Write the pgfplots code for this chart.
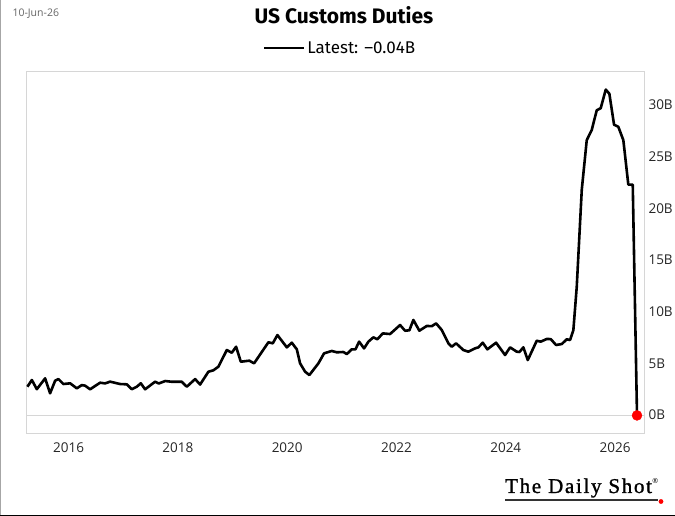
\documentclass[border=0pt]{standalone}
\usepackage{pgfplots}
\pgfplotsset{compat=1.18}
\usepackage{pgfplotstable}
\usepackage{fontspec}
\setmainfont{Open Sans}
\newfontfamily\titlefont{Fira Sans}
\newfontfamily\logofont[LetterSpace=8,FakeBold=1.2]{Liberation Serif}
\definecolor{frame}{HTML}{D6D6D6}
\definecolor{datecol}{HTML}{666666}
\pgfplotstableread{
x y
2015.246 2.74
2015.327 3.39
2015.418 2.50
2015.570 3.55
2015.661 2.10
2015.753 3.32
2015.813 3.48
2015.905 3.00
2016.027 3.07
2016.150 2.58
2016.242 2.90
2016.302 2.84
2016.393 2.49
2016.576 3.13
2016.668 3.06
2016.759 3.23
2016.942 3.00
2017.065 2.97
2017.156 2.50
2017.248 2.74
2017.321 3.07
2017.400 2.49
2017.583 3.23
2017.650 3.05
2017.766 3.29
2017.888 3.22
2018.071 3.22
2018.163 2.74
2018.315 3.48
2018.406 2.95
2018.558 4.19
2018.650 4.33
2018.741 4.68
2018.895 6.29
2018.986 6.03
2019.065 6.61
2019.151 5.16
2019.308 5.26
2019.394 5.00
2019.656 7.04
2019.736 6.94
2019.821 7.74
2019.993 6.55
2020.084 7.00
2020.176 6.36
2020.236 5.00
2020.328 4.19
2020.406 3.87
2020.571 5.00
2020.675 5.97
2020.816 6.20
2020.908 6.07
2021.028 6.10
2021.091 5.90
2021.182 6.36
2021.250 6.36
2021.316 7.10
2021.407 6.45
2021.486 7.10
2021.577 7.52
2021.650 7.33
2021.749 7.90
2021.883 7.84
2022.066 8.71
2022.157 8.16
2022.236 8.20
2022.309 9.20
2022.419 8.16
2022.554 8.62
2022.646 8.60
2022.725 8.87
2022.829 8.23
2022.950 6.94
2023.012 6.61
2023.091 6.94
2023.224 6.29
2023.316 6.13
2023.438 6.45
2023.499 6.55
2023.579 7.00
2023.663 6.36
2023.823 7.00
2023.987 5.81
2024.079 6.55
2024.201 6.13
2024.250 6.10
2024.322 6.55
2024.403 5.32
2024.567 7.19
2024.640 7.10
2024.750 7.36
2024.823 7.35
2024.920 6.78
2025.025 6.87
2025.116 7.33
2025.177 7.26
2025.237 8.20
2025.299 12.4
2025.391 21.8
2025.482 26.6
2025.574 27.6
2025.665 29.5
2025.738 29.7
2025.830 31.5
2025.896 31.1
2025.982 28.1
2026.060 27.9
2026.152 26.6
2026.243 22.3
2026.324 22.3
2026.402 -0.04
}\duties
\begin{document}
\begin{tikzpicture}
\useasboundingbox (0pt,0pt) rectangle (675pt,516pt);
\fill[white] (0pt,0pt) rectangle (675pt,516pt);
\draw[gray!70, line width=1.2pt] (0.6pt,0pt) -- (0.6pt,516pt);
\draw[black, line width=1.2pt] (0pt,0.7pt) -- (675pt,0.7pt);
\node[anchor=west, text=datecol, font=\fontsize{10.5}{12}\selectfont] at (9pt,502pt) {10-Jun-26};
\node[font=\titlefont\bfseries\fontsize{21}{24}\selectfont] at (344pt,501pt) {US Customs Duties};
\begin{axis}[
  at={(26pt,83pt)}, anchor=south west,
  width=618pt, height=362pt, scale only axis,
  xmin=2015.22, xmax=2026.53, ymin=-1.74, ymax=33.3,
  axis line style={draw=frame, line width=0.9pt},
  major tick length=0pt,
  xtick={2016,2018,2020,2022,2024,2026},
  xticklabels={2016,2018,2020,2022,2024,2026},
  ytick={0,5,10,15,20,25,30},
  yticklabels={0B,5B,10B,15B,20B,25B,30B},
  yticklabel pos=right,
  ticklabel style={font=\fontsize{13.5}{15}\selectfont, text=black!85},
  xticklabel style={yshift=-6pt},
  yticklabel style={xshift=1pt},
  extra y ticks={0}, extra y tick labels={},
  extra y tick style={ymajorgrids=true, major grid style={draw=frame, line width=0.9pt}},
  legend style={at={(0.5,1)}, anchor=south, yshift=13pt, xshift=5pt, draw=none, fill=none,
     font=\titlefont\fontsize{17}{19}\selectfont, inner sep=1pt},
  legend image code/.code={\draw[#1, line width=2.6pt] (0pt,0pt) -- (40pt,0pt);},
  clip=false,
]
\addplot[black, line width=2.6pt, line join=round] table[x=x,y=y] {\duties};
\addlegendentry{Latest: –0.04B}
\addplot[forget plot, only marks, mark=*, mark size=5pt, mark options={draw=red, fill=red}] coordinates {(2026.402,-0.04)};
\end{axis}
\node[anchor=base west, font=\logofont\fontsize{21}{24}\selectfont, inner sep=0pt] (logo) at (505pt,23pt) {The Daily Shot};
\draw[black!80, line width=1.2pt] (505pt,16pt) -- (658pt,16pt);
\fill[red] (661pt,14.5pt) circle (2.4pt);
\node[anchor=base west, font=\fontsize{7}{8}\selectfont, inner sep=0pt] at (logo.base east) [yshift=9pt, xshift=0pt] {\textregistered};
\end{tikzpicture}
\end{document}
